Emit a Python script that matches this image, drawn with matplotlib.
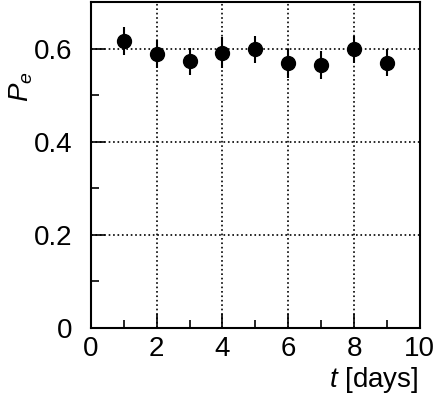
import matplotlib
matplotlib.use('Agg')
import matplotlib.pyplot as plt
from matplotlib.ticker import MultipleLocator

plt.rcParams['font.family'] = ['Liberation Sans', 'DejaVu Sans']
plt.rcParams['mathtext.fontset'] = 'custom'
plt.rcParams['mathtext.it'] = 'Liberation Sans:italic'
plt.rcParams['mathtext.rm'] = 'Liberation Sans'

days = [1, 2, 3, 4, 5, 6, 7, 8, 9]
pe = [0.616, 0.588, 0.573, 0.591, 0.598, 0.568, 0.565, 0.598, 0.570]
pe_err = [0.030, 0.030, 0.029, 0.033, 0.030, 0.031, 0.030, 0.029, 0.029]

fig = plt.figure(figsize=(4.35, 3.94), dpi=100)
ax = fig.add_axes([0.209, 0.1675, 0.756, 0.8275])

ax.errorbar(days, pe, yerr=pe_err, fmt='o', color='black', ms=10,
            elinewidth=1.5, capsize=0, zorder=3)

ax.set_xlim(0, 10)
ax.set_ylim(0, 0.7)
ax.xaxis.set_minor_locator(MultipleLocator(1))
ax.yaxis.set_minor_locator(MultipleLocator(0.1))
ax.set_xticks([0, 2, 4, 6, 8, 10])
ax.set_xticklabels(['0', '2', '4', '6', '8', '10'])
ax.set_yticks([0, 0.2, 0.4, 0.6])
ax.set_yticklabels(['0', '0.2', '0.4', '0.6'])

ax.tick_params(which='both', direction='in', top=False, right=False,
               labelsize=20, width=1.2)
ax.tick_params(which='major', length=10)
ax.tick_params(which='minor', length=6)
ax.tick_params(axis='x', which='major', pad=6)
ax.tick_params(axis='y', which='major', pad=13)
for s in ax.spines.values():
    s.set_linewidth(1.5)

ax.grid(True, which='major', color='black', linestyle=':', linewidth=1.2)

fig.text(0.048, 0.78, r'$P_e$', rotation=90, fontsize=20, ha='center', va='center')
fig.text(0.961, 0.036, r'$t$ [days]', fontsize=20, ha='right', va='center')

fig.savefig('out.png', dpi=100)
